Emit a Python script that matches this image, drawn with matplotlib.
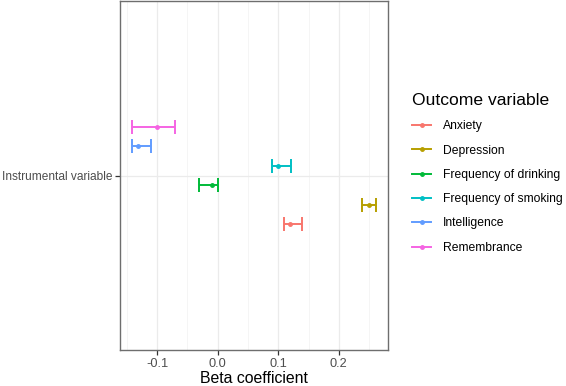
import matplotlib
matplotlib.use("Agg")
import matplotlib.pyplot as plt
from matplotlib.lines import Line2D

plt.rcParams['font.family'] = ['Liberation Sans', 'DejaVu Sans']

# data
outcomes = ['Anxiety', 'Depression', 'Frequency of drinking',
            'Frequency of smoking', 'Intelligence', 'Remembrance']
beta = [0.120, 0.250, -0.010, 0.099, -0.131, -0.100]
lower = [0.109, 0.239, -0.031, 0.089, -0.141, -0.141]
upper = [0.140, 0.261, 0.000, 0.121, -0.110, -0.070]
colors = ['#F8766D', '#B79F00', '#00BA38', '#00BFC4', '#619CFF', '#F564E3']
exposure = 'Instrumental variable'

fig = plt.figure(figsize=(5.66, 3.86), dpi=100)
ax = fig.add_axes([120 / 566, 1 - 350 / 386, 268 / 566, 349 / 386])

n = len(outcomes)
dodge = 0.4
for i in range(n):
    y = 1 + (i - (n - 1) / 2) * dodge / n
    ax.errorbar(beta[i], y, xerr=[[beta[i] - lower[i]], [upper[i] - beta[i]]],
                fmt='o', color=colors[i], ms=2.5, elinewidth=1.4,
                capsize=5, capthick=1.4, zorder=3)

ax.set_ylim(0.4, 1.6)
ax.set_yticks([1])
ax.set_yticklabels([exposure])
lo = min(lower)
hi = max(upper)
pad = (hi - lo) * 0.05
ax.set_xlim(lo - pad, hi + pad)
ax.set_xticks([-0.1, 0.0, 0.1, 0.2])
ax.set_xticklabels(['-0.1', '0.0', '0.1', '0.2'])
ax.set_xticks([-0.15, -0.05, 0.05, 0.15, 0.25], minor=True)
ax.grid(True, which='major', color='#EBEBEB', lw=0.9)
ax.grid(True, which='minor', axis='x', color='#F4F4F4', lw=0.6)
ax.set_axisbelow(True)
ax.tick_params(which='minor', length=0)
ax.tick_params(which='major', length=3.5, width=0.9, color='#333333',
               labelsize=8.6, labelcolor='#4D4D4D', pad=2)
ax.tick_params(axis='x', labelsize=9.2)
for s in ax.spines.values():
    s.set_color('#6E6E6E')
    s.set_linewidth(1.0)
ax.set_xlabel('Beta coefficient', fontsize=11.4, labelpad=1)

handles = [Line2D([], [], color=c, lw=1.4, marker='o', ms=2.5) for c in colors]
leg = fig.legend(handles, outcomes, title='Outcome variable',
                 loc='upper left', bbox_to_anchor=(401 / 566, 1 - 82 / 386),
                 frameon=False, fontsize=8.7, title_fontsize=12.6,
                 handlelength=1.6, handletextpad=1.0, labelspacing=1.02)
leg._legend_box.align = 'left'

fig.savefig('out.png', dpi=100)
